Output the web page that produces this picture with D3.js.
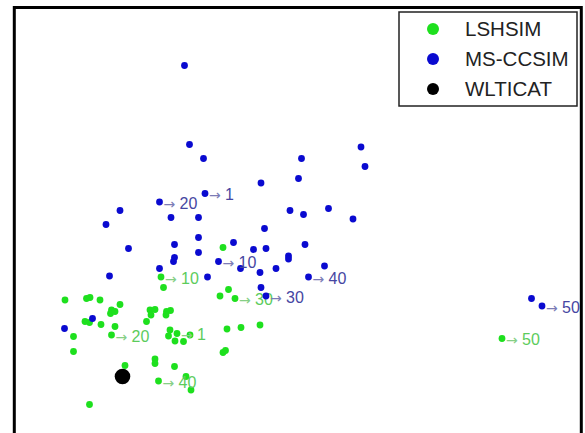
<!DOCTYPE html>
<html>
<head>
<meta charset="utf-8">
<script src="https://cdn.jsdelivr.net/npm/d3@7"></script>
<style>
  body { margin: 0; background: #fff; }
  svg { display: block; font-family: "Liberation Sans", Arial, sans-serif; }
</style>
</head>
<body>
<div id="chart"></div>
<script>
// Point coordinates (arbitrary map units); third value = label
const lshsim = [
  [4.20, 4.19], [2.96, 3.60, "10"], [3.01, 3.39], [4.31, 3.35], [4.14, 3.22],
  [4.44, 3.17, "30"], [1.04, 3.14], [1.47, 3.17], [1.54, 3.19], [1.74, 3.14],
  [2.14, 3.05], [1.97, 2.94], [1.95, 2.87], [2.04, 2.91], [1.44, 2.71],
  [1.53, 2.69], [1.76, 2.65], [2.04, 2.61], [1.97, 2.44, "20"], [1.21, 2.41],
  [1.21, 2.11], [2.74, 2.94], [2.84, 2.95], [2.76, 2.84], [2.67, 2.71],
  [3.07, 2.91], [3.15, 2.93], [3.06, 2.84], [3.14, 2.54], [3.11, 2.42],
  [3.28, 2.47, "1"], [3.24, 2.32], [3.41, 2.31], [3.54, 2.44], [4.28, 2.56],
  [4.56, 2.59], [4.94, 2.64], [4.20, 2.09], [4.25, 2.13], [2.24, 1.83],
  [2.84, 1.96], [2.84, 1.87], [3.23, 1.81], [2.91, 1.52, "40"], [3.46, 1.61],
  [3.56, 1.34], [1.53, 1.05], [9.78, 2.37, "50"]
];

const msccsim = [
  [3.43, 7.83], [3.53, 6.25], [3.81, 5.97], [5.77, 5.97], [6.96, 6.20],
  [7.04, 5.81], [5.71, 5.57], [4.96, 5.48], [3.84, 5.27, "1"], [2.93, 5.10, "20"],
  [2.14, 4.93], [1.86, 4.65], [3.16, 4.79], [3.71, 4.79], [5.54, 4.93],
  [5.81, 4.85], [6.31, 4.97], [6.80, 4.76], [5.03, 4.57], [3.71, 4.39],
  [2.31, 4.17], [3.23, 4.25], [4.41, 4.29], [4.81, 4.15], [5.06, 4.17],
  [5.84, 4.25], [3.71, 4.09], [3.23, 3.99], [3.21, 3.91], [5.51, 4.02],
  [5.51, 3.96], [4.11, 3.91, "10"], [4.55, 3.77], [4.94, 3.69], [5.26, 3.77],
  [6.23, 3.82], [2.93, 3.77], [1.93, 3.62], [3.89, 3.60], [5.91, 3.60, "40"],
  [4.96, 3.39], [5.06, 3.22, "30"], [1.59, 2.77], [1.03, 2.57], [10.37, 3.17],
  [10.58, 3.02, "50"]
];

const wlticat = [[2.19, 1.61]];

const legendItems = ["LSHSIM", "MS-CCSIM", "WLTICAT"];
const legendColors = ["#1ee01e", "#0a0ad0", "#000000"];

const W = 585, H = 433;

const svg = d3.select("#chart")
    .append("svg")
    .attr("width", W)
    .attr("height", H);

svg.append("rect").attr("width", W).attr("height", H).attr("fill", "#fff");

const x = d3.scaleLinear().domain([0, 11.4]).range([13, 583]);
const y = d3.scaleLinear().domain([0, 9]).range([457, 7]);

// draw one series: points, then arrow labels
function drawSeries(data, color, labelColor, arrowColor) {
    const g = svg.append("g");
    g.selectAll("circle")
        .data(data)
        .join("circle")
        .attr("cx", d => x(d[0]))
        .attr("cy", d => y(d[1]))
        .attr("r", 3.4)
        .attr("fill", color);

    const lab = g.selectAll("text")
        .data(data.filter(d => d[2]))
        .join("text")
        .attr("y", d => y(d[1]) + 1)
        .attr("dy", "0.35em");
    lab.append("tspan")
        .attr("x", d => x(d[0]) + 4)
        .attr("font-size", 14)
        .attr("font-family", "DejaVu Sans, sans-serif")
        .attr("fill", arrowColor)
        .text("\u2192");
    lab.append("tspan")
        .attr("x", d => x(d[0]) + 20)
        .attr("font-size", 16)
        .attr("fill", labelColor)
        .text(d => d[2]);
}

drawSeries(lshsim, legendColors[0], "#5ccc5c", "#86cf86");
drawSeries(msccsim, legendColors[1], "#4646a2", "#7c7cb6");

svg.append("g")
    .selectAll("circle")
    .data(wlticat)
    .join("circle")
    .attr("cx", d => x(d[0]))
    .attr("cy", d => y(d[1]))
    .attr("r", 7.8)
    .attr("fill", "#000");

// legend
const legend = svg.append("g");
legend.append("rect")
    .attr("x", 399)
    .attr("y", 12)
    .attr("width", 178)
    .attr("height", 94)
    .attr("fill", "#fff")
    .attr("stroke", "#222")
    .attr("stroke-width", 1.5);

const rows = legend.selectAll("g")
    .data(legendItems)
    .join("g")
    .attr("transform", (d, i) => `translate(433,${29 + i * 30})`);

rows.append("circle")
    .attr("r", 6)
    .attr("fill", (d, i) => legendColors[i]);

rows.append("text")
    .attr("x", 32)
    .attr("dy", "0.36em")
    .attr("font-size", 20.5)
    .attr("fill", "#222")
    .text(d => d);

// plot frame
svg.append("rect")
    .attr("x", 14.3)
    .attr("y", 7.5)
    .attr("width", 567)
    .attr("height", 470)
    .attr("fill", "none")
    .attr("stroke", "#000")
    .attr("stroke-width", 3);
</script>
</body>
</html>
